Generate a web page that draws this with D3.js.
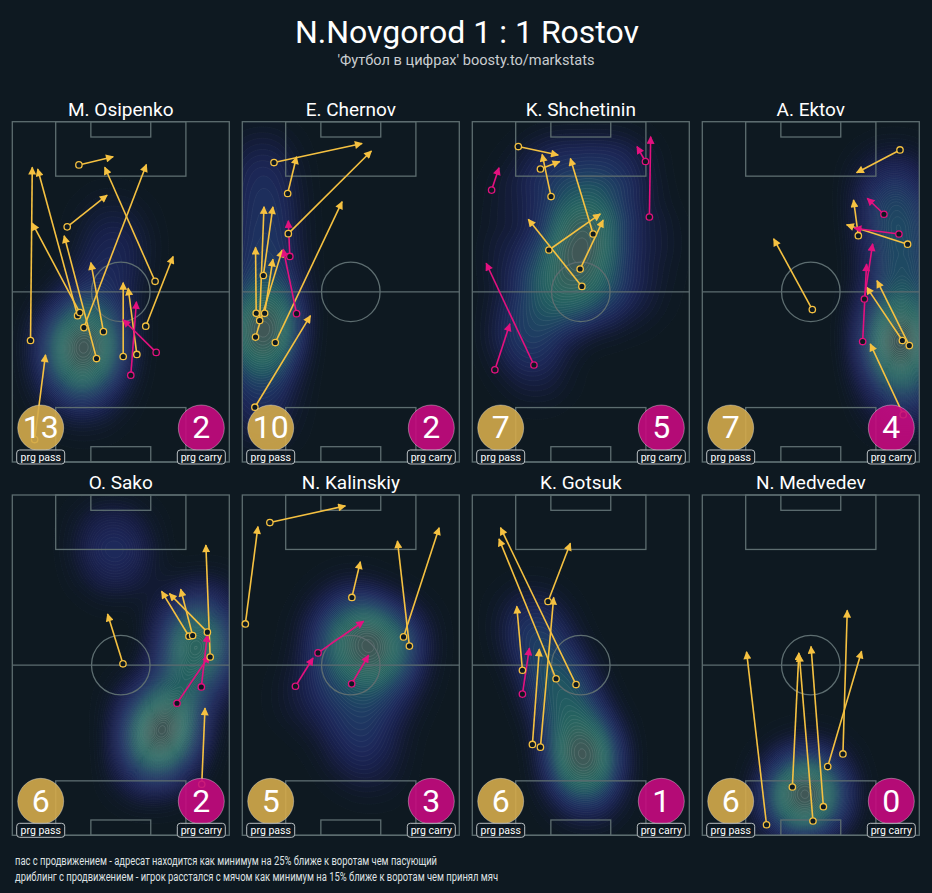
<!DOCTYPE html>
<html><head><meta charset="utf-8">
<script src="https://cdn.jsdelivr.net/npm/d3@7"></script>
<style>
html,body{margin:0;padding:0;background:#0e1921;}
svg{display:block;font-family:Roboto,"Noto Sans",sans-serif;}
</style>
</head><body>
<svg id="chart" width="932" height="893"></svg>
<script>
// ---------- DATA ----------
const title = "N.Novgorod 1 : 1 Rostov";
const subtitle = "'Футбол в цифрах' boosty.to/markstats";
const players = ["M. Osipenko","E. Chernov","K. Shchetinin","A. Ektov","O. Sako","N. Kalinskiy","K. Gotsuk","N. Medvedev"];
const passLabel = "prg pass";
const carryLabel = "prg carry";
const notes = [
  "пас с продвижением - адресат находится как минимум на 25% ближе к воротам чем пасующий",
  "дриблинг с продвижением - игрок расстался с мячом как минимум на 15% ближе к воротам чем принял мяч"
];
// pitch units 0-100: x across (left->right), y along (own goal -> opponent goal)
// progressive passes [x1, y1, x2, y2]
const passes = [
  [[30.7,87.3,46.5,89.7],[25.3,69.1,43.7,78.4],[65.8,53.1,42.6,86.6],[33.0,39.5,61.8,87.4],[8.4,35.7,9.2,86.6],[30.1,43.0,11.7,86.1],[31.1,43.9,9.2,70.2],[38.8,30.4,23.9,66.5],[42.0,38.3,36.2,58.6],[51.1,31.0,51.1,52.7],[57.4,31.6,53.4,51.1],[61.5,39.9,74.1,60.4],[10.3,6.6,15.3,31.5]],
  [[6.4,43.7,6.1,63.1],[8.0,41.6,10.0,75.0],[9.7,54.8,14.1,75.0],[10.3,43.7,14.1,59.6],[6.1,36.7,18.4,62.3],[15.2,35.1,46.0,76.5],[5.8,16.1,31.4,43.0],[14.6,88.0,55.2,93.6],[20.9,78.9,25.0,89.7],[21.2,67.1,59.5,91.4]],
  [[21.2,92.7,39.6,90.2],[31.4,86.1,40.3,88.3],[36.3,78.0,32.2,90.4],[55.7,67.0,45.2,89.2],[35.3,62.3,59.0,72.9],[49.7,56.7,60.3,71.1],[50.5,51.6,25.8,71.3]],
  [[91.1,91.7,71.1,85.0],[71.9,66.5,69.7,77.0],[94.6,64.0,66.5,69.7],[50.7,44.8,32.9,65.6],[92.2,35.7,75.7,51.4],[95.4,34.2,80.5,53.3],[92.6,13.9,77.4,34.7]],
  [[51.0,50.4,43.9,65.0],[81.4,58.5,68.8,71.7],[83.1,58.7,77.6,72.3],[89.9,59.7,72.4,71.0],[91.2,52.4,89.2,85.3],[87.3,15.0,88.8,37.4]],
  [[1.4,62.1,7.2,90.7],[12.7,91.9,47.5,96.8],[50.5,69.9,54.4,80.4],[77.0,55.6,71.5,86.5],[74.3,58.3,90.7,90.4]],
  [[23.1,48.5,20.5,67.3],[38.6,46.0,12.3,87.1],[47.8,44.3,13.0,90.4],[34.9,68.7,45.2,85.8],[27.7,26.7,30.9,54.7],[31.4,25.9,37.5,69.9]],
  [[29.6,3.1,20.4,53.9],[41.5,14.2,44.5,53.6],[51.0,4.2,44.7,53.1],[55.8,8.4,50.1,55.5],[57.8,20.2,73.4,54.1],[64.8,23.9,66.8,66.1]]
];
// progressive carries [x1, y1, x2, y2]
const carries = [
  [[66.3,32.2,51.1,41.8],[54.6,25.5,57.2,47.1]],
  [[21.9,60.4,21.2,70.9],[25.0,43.6,18.9,62.5]],
  [[8.9,79.9,12.3,86.5],[79.8,88.3,75.9,92.7],[81.6,72.0,82.2,95.6],[28.4,28.5,6.4,58.4],[10.4,27.1,17.3,40.6]],
  [[83.7,72.8,76.0,77.5],[90.6,67.0,70.0,68.7],[74.7,47.9,78.5,64.1],[73.9,35.4,75.7,58.2]],
  [[87.1,43.6,89.9,58.9],[75.9,38.8,90.8,52.8]],
  [[34.9,53.6,55.9,62.9],[24.5,43.8,32.6,52.1],[50.4,44.5,58.2,52.9]],
  [[23.1,41.5,26.3,55.0]],
  []
];
// estimated touch locations behind each heat map [x, y]
const touches = [
  [[34,34],[34,34],[33,32],[30,28],[38,40],[28,38],[40,30],[34,24],[34,44],[40,50],[44,56],[26,30],[42,38],[36,18],[30,42],[48,62],[24,22],[38,30],[46,70],[20,36]],
  [[10,40],[10,40],[9,36],[11,44],[9,32],[10,50],[11,56],[10,62],[9,26],[8,20],[11,68],[10,75],[10,82],[9,90],[12,46],[8,38],[10,34],[9,12]],
  [[50,67],[50,67],[47,62],[54,70],[45,73],[52,58],[42,58],[58,64],[50,76],[36,50],[30,42],[26,34],[32,56],[60,52],[66,76],[22,78],[70,86],[44,86],[42,46],[56,46],[18,60],[80,66],[48,52],[35,88],[62,88],[20,40],[30,26],[75,50]],
  [[93,35],[93,35],[92,30],[94,40],[92,46],[92,24],[94,52],[91,58],[92,64],[90,70],[89,76],[88,82],[86,40],[94,18],[88,32]],
  [[70,30],[70,30],[68,27],[72,34],[66,24],[74,38],[64,20],[78,44],[85,55],[86,60],[84,52],[88,50],[82,60],[46,88],[48,80],[88,66],[62,36]],
  [[54,55],[67,55],[60,52],[52,60],[46,52],[62,62],[70,48],[55,44],[50,36],[42,46],[58,32],[52,68],[38,58],[66,40],[50,26],[62,58],[54,56],[68,54],[74,60],[46,64],[30,40],[60,20]],
  [[52,23],[52,23],[50,19],[54,27],[49,30],[46,35],[43,40],[40,45],[36,50],[32,55],[29,60],[52,15],[54,10],[48,26],[51,21],[27,65],[41,42]],
  [[47,12],[47,12],[45,8],[50,15],[41,14],[54,10],[48,5],[43,19],[52,21],[58,12],[37,9],[46,10]]
];

// ---------- LAYOUT ----------
const W = 932, H = 893;
const bg = "#0e1921";
const passColor = "#f5c141", carryColor = "#e3117f";
const passBadge = "#d4ab4b", carryBadge = "#c60a7f";
const lineColor = "#5d6d70";
const pw = 217, ph = 340.3;
const colX = [12.3, 242.3, 472.3, 702.3];
const rowY = [121.7, 495];

const svg = d3.select("#chart");
svg.append("rect").attr("width", W).attr("height", H).attr("fill", bg);

const defs = svg.append("defs");
[["pass", passColor],["carry", carryColor]].forEach(([id, c]) => {
  defs.append("marker").attr("id", "arr-" + id)
    .attr("viewBox", "0 0 10 10").attr("refX", 9).attr("refY", 5)
    .attr("markerUnits", "userSpaceOnUse").attr("markerWidth", 9).attr("markerHeight", 8)
    .attr("orient", "auto")
    .append("path").attr("d", "M0,0 L10,5 L0,10 Z").attr("fill", c);
});

svg.append("text").attr("x", W/2 + 1).attr("y", 42.5).attr("text-anchor", "middle")
  .attr("fill", "#ffffff").attr("font-size", 32).text(title);
svg.append("text").attr("x", W/2).attr("y", 65).attr("text-anchor", "middle")
  .attr("fill", "#c9cdd0").attr("font-size", 14.6).text(subtitle);

const heatColor = d3.interpolateRgbBasis(["#161c3c","#1e2459","#1f3866","#1f5a60","#2a6a61","#405756"]);

players.forEach((name, i) => {
  const col = i % 4, row = Math.floor(i / 4);
  const x0 = colX[col], y0 = rowY[row];
  const sx = d3.scaleLinear().domain([0, 100]).range([0, pw]);
  const sy = d3.scaleLinear().domain([0, 100]).range([ph, 0]);
  const g = svg.append("g").attr("transform", `translate(${x0},${y0})`);

  defs.append("clipPath").attr("id", "clip" + i)
    .append("rect").attr("width", pw).attr("height", ph);

  // heat map
  const dens = d3.contourDensity()
    .x(d => sx(d[0])).y(d => sy(d[1]))
    .size([Math.ceil(pw), Math.ceil(ph)])
    .cellSize(2).bandwidth(24).thresholds(50)(touches[i]);
  const n = dens.length;
  const hg = g.append("g").attr("clip-path", `url(#clip${i})`);
  hg.selectAll("path").data(dens).join("path")
    .attr("d", d3.geoPath())
    .attr("fill", (d, k) => heatColor(k / (n - 1)))
    .attr("fill-opacity", (d, k) => Math.min(1, 0.1 + 1.4 * k / (n - 1)))
    .attr("stroke", "#c9d6d2").attr("stroke-opacity", (d, k) => 0.05 + 0.22 * k / (n - 1)).attr("stroke-width", 0.6);

  // pitch
  const pl = g.append("g").attr("fill", "none").attr("stroke", lineColor).attr("stroke-width", 1.3);
  pl.append("rect").attr("x", sx(0)).attr("y", sy(100)).attr("width", sx(100) - sx(0)).attr("height", sy(0) - sy(100));
  pl.append("line").attr("x1", sx(0)).attr("x2", sx(100)).attr("y1", sy(50)).attr("y2", sy(50));
  pl.append("ellipse").attr("cx", sx(50)).attr("cy", sy(50)).attr("rx", sx(13.5) - sx(0)).attr("ry", sy(0) - sy(8.75));
  [[20, 80, 16], [36.2, 63.8, 4.5]].forEach(([a, b, dpt]) => {
    pl.append("rect").attr("x", sx(a)).attr("y", sy(100)).attr("width", sx(b) - sx(a)).attr("height", sy(100 - dpt) - sy(100));
    pl.append("rect").attr("x", sx(a)).attr("y", sy(dpt)).attr("width", sx(b) - sx(a)).attr("height", sy(0) - sy(dpt));
  });

  // arrows
  const drawArrows = (data, color, id) => {
    g.append("g").selectAll("line").data(data).join("line")
      .attr("x1", d => sx(d[0])).attr("y1", d => sy(d[1]))
      .attr("x2", d => sx(d[2])).attr("y2", d => sy(d[3]))
      .attr("stroke", color).attr("stroke-width", 1.6)
      .attr("marker-end", `url(#arr-${id})`);
  };
  drawArrows(passes[i], passColor, "pass");
  drawArrows(carries[i], carryColor, "carry");
  const drawStarts = (data, color) => {
    g.append("g").selectAll("circle").data(data).join("circle")
      .attr("cx", d => sx(d[0])).attr("cy", d => sy(d[1])).attr("r", 3.2)
      .attr("fill", bg).attr("stroke", color).attr("stroke-width", 1.3);
  };
  drawStarts(passes[i], passColor);
  drawStarts(carries[i], carryColor);

  // name
  svg.append("text").attr("x", x0 + pw / 2).attr("y", y0 - 5.7).attr("text-anchor", "middle")
    .attr("fill", "#ffffff").attr("font-size", 19).text(name);

  // badges
  const badge = (cx, fill, count, label) => {
    g.append("circle").attr("cx", cx).attr("cy", ph - 34).attr("r", 23)
      .attr("fill", fill).attr("fill-opacity", 0.9)
      .attr("stroke", "#ffffff").attr("stroke-opacity", 0.35).attr("stroke-width", 1);
    g.append("text").attr("x", cx).attr("y", ph - 23.5).attr("text-anchor", "middle")
      .attr("fill", "#ffffff").attr("font-size", 32).text(count);
    g.append("rect").attr("x", cx - 24).attr("y", ph - 12).attr("width", 48).attr("height", 14).attr("rx", 3)
      .attr("fill", bg).attr("fill-opacity", 0.85).attr("stroke", "#b9bfc2").attr("stroke-width", 1);
    g.append("text").attr("x", cx).attr("y", ph - 1.3).attr("text-anchor", "middle")
      .attr("fill", "#ffffff").attr("font-size", 10.5).text(label);
  };
  badge(28.4, passBadge, passes[i].length, passLabel);
  badge(pw - 28, carryBadge, carries[i].length, carryLabel);
});

// notes
notes.forEach((t, k) => {
  svg.append("text").attr("x", 15).attr("y", 865 + k * 15.5)
    .attr("fill", "#dfe2e4").attr("font-size", 12)
    .attr("textLength", k === 0 ? 422 : 483).attr("lengthAdjust", "spacingAndGlyphs")
    .text(t);
});
</script>
</body></html>
